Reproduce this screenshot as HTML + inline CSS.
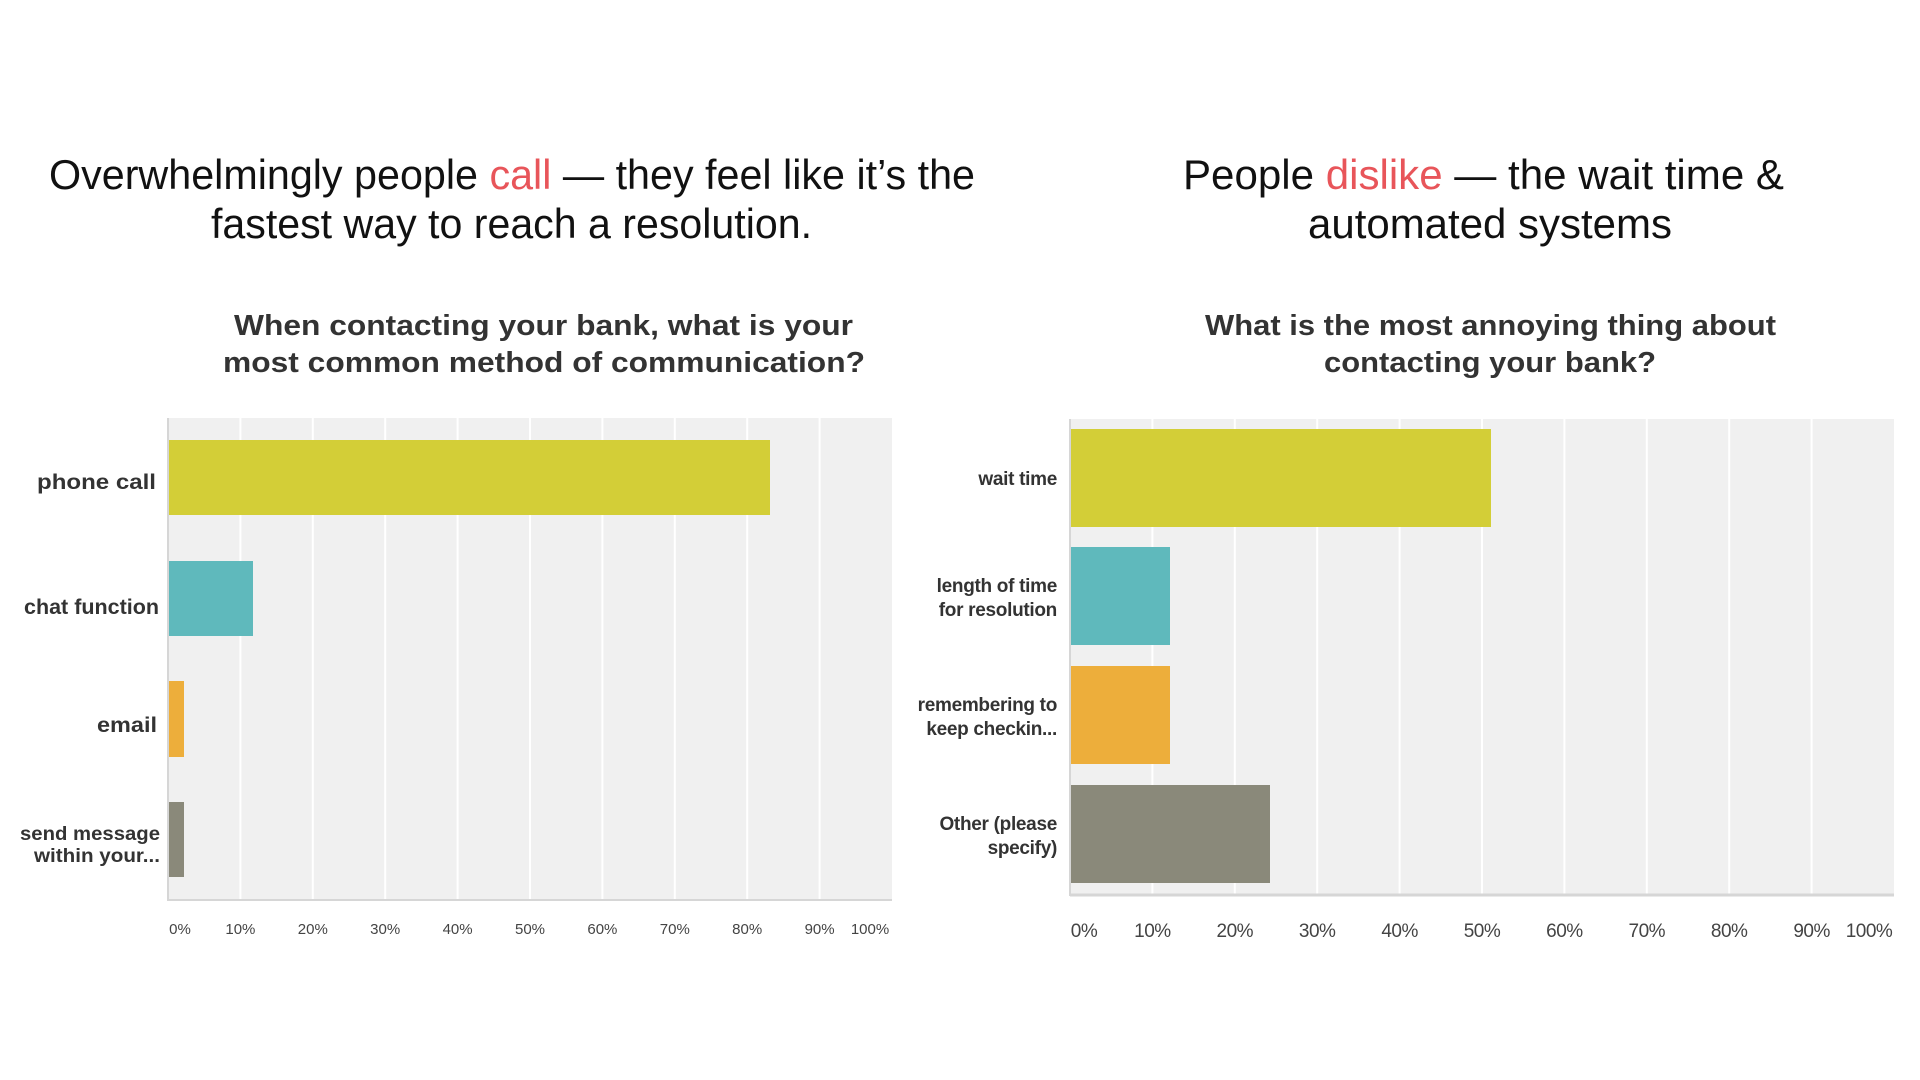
<!DOCTYPE html>
<html><head><meta charset="utf-8"><style>
html,body{margin:0;padding:0;background:#fff;}
svg{display:block;font-family:"Liberation Sans",sans-serif;}
</style></head><body>
<svg width="1920" height="1080" viewBox="0 0 1920 1080" xmlns="http://www.w3.org/2000/svg">
<rect width="1920" height="1080" fill="#fff"/>
<g font-size="41.5" fill="#111">
<text x="49" y="189" textLength="926" lengthAdjust="spacingAndGlyphs">Overwhelmingly people <tspan fill="#e8555a">call</tspan> — they feel like it’s the</text>
<text x="211" y="238" textLength="601" lengthAdjust="spacingAndGlyphs">fastest way to reach a resolution.</text>
<text x="1183" y="189" textLength="601" lengthAdjust="spacingAndGlyphs">People <tspan fill="#e8555a">dislike</tspan> — the wait time &amp;</text>
<text x="1308" y="238" textLength="364" lengthAdjust="spacingAndGlyphs">automated systems</text>
</g>
<g font-size="29" font-weight="bold" fill="#333">
<text x="234" y="335" textLength="619" lengthAdjust="spacingAndGlyphs">When contacting your bank, what is your</text>
<text x="223" y="372" textLength="642" lengthAdjust="spacingAndGlyphs">most common method of communication?</text>
<text x="1205" y="335" textLength="571" lengthAdjust="spacingAndGlyphs">What is the most annoying thing about</text>
<text x="1324" y="372" textLength="332" lengthAdjust="spacingAndGlyphs">contacting your bank?</text>
</g>

<!-- Left chart -->
<rect x="168" y="418" width="724" height="482" fill="#f0f0f0"/>
<g stroke="#fff" stroke-width="2">
<line x1="240.4" y1="418" x2="240.4" y2="900"/><line x1="312.8" y1="418" x2="312.8" y2="900"/>
<line x1="385.2" y1="418" x2="385.2" y2="900"/><line x1="457.6" y1="418" x2="457.6" y2="900"/>
<line x1="530" y1="418" x2="530" y2="900"/><line x1="602.4" y1="418" x2="602.4" y2="900"/>
<line x1="674.8" y1="418" x2="674.8" y2="900"/><line x1="747.2" y1="418" x2="747.2" y2="900"/>
<line x1="819.6" y1="418" x2="819.6" y2="900"/>
</g>
<line x1="168" y1="418" x2="168" y2="901" stroke="#d6d6d6" stroke-width="2"/>
<line x1="168" y1="900" x2="892" y2="900" stroke="#d6d6d6" stroke-width="2"/>
<rect x="169" y="440" width="601" height="75" fill="#d3ce37"/>
<rect x="169" y="561" width="84" height="75" fill="#5fb9bc"/>
<rect x="169" y="681" width="15" height="76" fill="#edae3b"/>
<rect x="169" y="802" width="15" height="75" fill="#8a897a"/>
<g font-size="21" font-weight="bold" fill="#333">
<text x="37" y="489" textLength="119" lengthAdjust="spacingAndGlyphs">phone call</text>
<text x="24" y="614" textLength="135" lengthAdjust="spacingAndGlyphs">chat function</text>
<text x="97" y="732" textLength="60" lengthAdjust="spacingAndGlyphs">email</text>
<text x="20" y="840" font-size="19" textLength="140" lengthAdjust="spacingAndGlyphs">send message</text>
<text x="34" y="862" font-size="19" textLength="126" lengthAdjust="spacingAndGlyphs">within your...</text>
</g>
<g font-size="15" fill="#444" text-anchor="middle">
<text x="180" y="934">0%</text><text x="240.4" y="934">10%</text><text x="312.8" y="934">20%</text>
<text x="385.2" y="934">30%</text><text x="457.6" y="934">40%</text><text x="530" y="934">50%</text>
<text x="602.4" y="934">60%</text><text x="674.8" y="934">70%</text><text x="747.2" y="934">80%</text>
<text x="819.6" y="934">90%</text><text x="870" y="934">100%</text>
</g>

<!-- Right chart -->
<rect x="1070" y="419" width="824" height="476" fill="#f0f0f0"/>
<g stroke="#fff" stroke-width="2">
<line x1="1152.4" y1="419" x2="1152.4" y2="895"/><line x1="1234.8" y1="419" x2="1234.8" y2="895"/>
<line x1="1317.2" y1="419" x2="1317.2" y2="895"/><line x1="1399.6" y1="419" x2="1399.6" y2="895"/>
<line x1="1482" y1="419" x2="1482" y2="895"/><line x1="1564.4" y1="419" x2="1564.4" y2="895"/>
<line x1="1646.8" y1="419" x2="1646.8" y2="895"/><line x1="1729.2" y1="419" x2="1729.2" y2="895"/>
<line x1="1811.6" y1="419" x2="1811.6" y2="895"/>
</g>
<line x1="1070" y1="419" x2="1070" y2="896" stroke="#d6d6d6" stroke-width="2"/>
<line x1="1070" y1="895" x2="1894" y2="895" stroke="#d6d6d6" stroke-width="3"/>
<rect x="1071" y="429" width="420" height="98" fill="#d3ce37"/>
<rect x="1071" y="547" width="99" height="98" fill="#5fb9bc"/>
<rect x="1071" y="666" width="99" height="98" fill="#edae3b"/>
<rect x="1071" y="785" width="199" height="98" fill="#8a897a"/>
<g font-size="19" font-weight="bold" fill="#333" text-anchor="end" letter-spacing="-0.3">
<text x="1057" y="485">wait time</text>
<text x="1057" y="592">length of time</text>
<text x="1057" y="616">for resolution</text>
<text x="1057" y="711">remembering to</text>
<text x="1057" y="735">keep checkin...</text>
<text x="1057" y="830">Other (please</text>
<text x="1057" y="854">specify)</text>
</g>
<g font-size="19" fill="#444" text-anchor="middle" letter-spacing="-0.5">
<text x="1084" y="937">0%</text><text x="1152.4" y="937">10%</text><text x="1234.8" y="937">20%</text>
<text x="1317.2" y="937">30%</text><text x="1399.6" y="937">40%</text><text x="1482" y="937">50%</text>
<text x="1564.4" y="937">60%</text><text x="1646.8" y="937">70%</text><text x="1729.2" y="937">80%</text>
<text x="1811.6" y="937">90%</text><text x="1869" y="937">100%</text>
</g>
</svg>
</body></html>
